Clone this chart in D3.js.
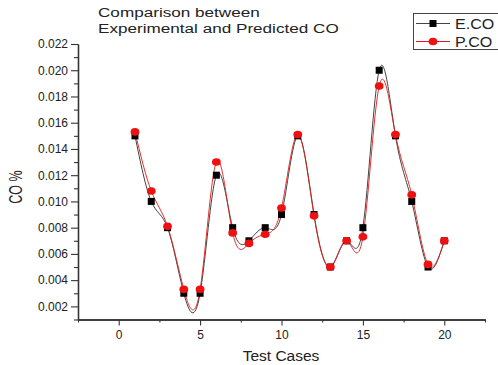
<!DOCTYPE html>
<html>
<head>
<meta charset="utf-8">
<script src="https://cdn.jsdelivr.net/npm/d3@7/dist/d3.min.js"></script>
<style>
  html, body { margin: 0; padding: 0; background: #fff; }
  svg { display: block; font-family: "Liberation Sans", Arial, sans-serif; }
</style>
</head>
<body>
<svg id="chart" width="498" height="365"></svg>
<script>
// Test case numbers
const testCases = d3.range(1, 21);
// Experimental CO (%)
const experimentalCO = [0.015, 0.010, 0.008, 0.003, 0.003, 0.012, 0.008, 0.007, 0.008, 0.009,
                        0.015, 0.009, 0.005, 0.007, 0.008, 0.020, 0.015, 0.010, 0.005, 0.007];
// Predicted CO (%)
const predictedCO = [0.0153, 0.0108, 0.0081, 0.0033, 0.0033, 0.0130, 0.0076, 0.0068, 0.0075, 0.0095,
                     0.0151, 0.0089, 0.0050, 0.0070, 0.0073, 0.0188, 0.0151, 0.0105, 0.0052, 0.0070];
const xTickValues = [0, 5, 10, 15, 20];
const yTickValues = [0.002, 0.004, 0.006, 0.008, 0.010, 0.012, 0.014, 0.016, 0.018, 0.020, 0.022];
const seriesNames = ["E.CO", "P.CO"];

const svg = d3.select("#chart");
const plotLeft = 78, plotRight = 485, plotTop = 44, plotBottom = 319.5;

const x = d3.scaleLinear().domain([-2.5, 22.5]).range([plotLeft, plotRight]);
const y = d3.scaleLinear().domain([0.001, 0.022]).range([plotBottom, plotTop]);

const axisColor = "#333";
const textColor = "#222";

// Y axis: major ticks outward with labels, minor ticks between
svg.append("g").attr("transform", `translate(${plotLeft},0)`)
  .call(d3.axisLeft(y).tickValues(yTickValues).tickFormat(d3.format(".3f")).tickSize(7).tickSizeOuter(0).tickPadding(3));
svg.append("g").attr("transform", `translate(${plotLeft},0)`)
  .call(d3.axisLeft(y).tickValues(d3.range(0.001, 0.0215, 0.002)).tickFormat("").tickSize(4).tickSizeOuter(0));

// X axis: ticks point down
svg.append("g").attr("transform", `translate(0,${plotBottom})`)
  .call(d3.axisBottom(x).tickValues(xTickValues).tickFormat(d3.format("d")).tickSize(6).tickSizeOuter(0).tickPadding(5));
svg.append("g").attr("transform", `translate(0,${plotBottom})`)
  .call(d3.axisBottom(x).tickValues([-2.5, 2.5, 7.5, 12.5, 17.5, 22.5]).tickFormat("").tickSize(3).tickSizeOuter(0));

svg.selectAll(".domain").attr("stroke", axisColor).attr("stroke-width", 1.3);
svg.selectAll(".tick line").attr("stroke", axisColor).attr("stroke-width", 1.1);
svg.selectAll(".tick text").attr("fill", textColor).style("font-size", "12px")
  .style("font-family", "'Liberation Sans', Arial, sans-serif");

// Smooth spline lines through the points
const line = (vals) => d3.line()
  .x((d, i) => x(testCases[i]))
  .y(d => y(d))
  .curve(d3.curveNatural)(vals);

svg.append("path").attr("d", line(experimentalCO))
  .attr("fill", "none").attr("stroke", "#444").attr("stroke-width", 1);
svg.append("path").attr("d", line(predictedCO))
  .attr("fill", "none").attr("stroke", "#e41a1a").attr("stroke-width", 0.9);

// Markers
const sq = 7;
svg.append("g").selectAll("rect").data(experimentalCO).join("rect")
  .attr("x", (d, i) => x(testCases[i]) - sq / 2)
  .attr("y", d => y(d) - sq / 2)
  .attr("width", sq).attr("height", sq)
  .attr("fill", "#000");
svg.append("g").selectAll("ellipse").data(predictedCO).join("ellipse")
  .attr("cx", (d, i) => x(testCases[i]))
  .attr("cy", d => y(d))
  .attr("rx", 4.4).attr("ry", 3.8)
  .attr("fill", "#ee1111");

// Title (two lines)
const title = svg.append("text")
  .attr("transform", "translate(98,0) scale(1.37,1)")
  .attr("fill", textColor).style("font-size", "12.5px");
title.append("tspan").attr("x", 0).attr("y", 17.3).text("Comparison between");
title.append("tspan").attr("x", 0).attr("y", 32.7).text("Experimental and Predicted CO");

// Axis titles
svg.append("text")
  .attr("transform", "translate(22,187) scale(1.45,1) rotate(-90)")
  .attr("text-anchor", "middle").attr("fill", textColor)
  .style("font-size", "12.5px").text("CO %");
svg.append("text")
  .attr("x", 281).attr("y", 360.5)
  .attr("text-anchor", "middle").attr("fill", textColor)
  .style("font-size", "15.5px").text("Test Cases");

// Legend
const lg = svg.append("g");
lg.append("rect").attr("x", 413.5).attr("y", 13.5).attr("width", 120).attr("height", 36)
  .attr("fill", "#fff").attr("stroke", "#444").attr("stroke-width", 1);
const rows = [
  { name: seriesNames[0], yy: 23.5, color: "#444", kind: "sq" },
  { name: seriesNames[1], yy: 41.5, color: "#e41a1a", kind: "circle" }
];
rows.forEach(r => {
  lg.append("line").attr("x1", 416).attr("x2", 450).attr("y1", r.yy).attr("y2", r.yy)
    .attr("stroke", r.color).attr("stroke-width", 1);
  if (r.kind === "sq") {
    lg.append("rect").attr("x", 433 - 3.5).attr("y", r.yy - 3.5).attr("width", 7).attr("height", 7).attr("fill", "#000");
  } else {
    lg.append("ellipse").attr("cx", 433).attr("cy", r.yy).attr("rx", 4.4).attr("ry", 3.8).attr("fill", "#ee1111");
  }
  lg.append("text").attr("transform", `translate(455,${r.yy + 5}) scale(1.15,1)`)
    .attr("fill", textColor).style("font-size", "14px").text(r.name);
});
</script>
</body>
</html>
